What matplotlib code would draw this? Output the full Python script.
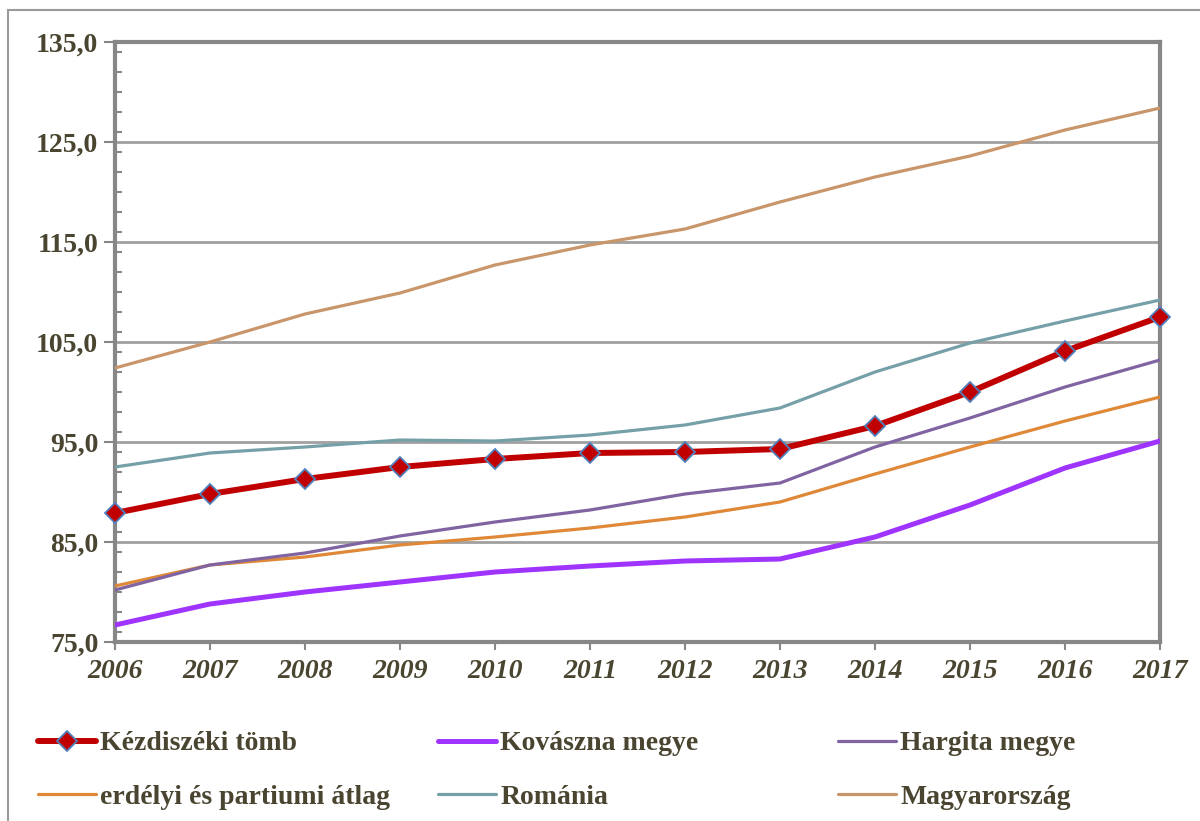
import matplotlib
matplotlib.use("Agg")
import matplotlib.pyplot as plt
from matplotlib.ticker import MultipleLocator, FixedLocator
from matplotlib.lines import Line2D
from matplotlib.patches import Rectangle
from matplotlib.font_manager import FontProperties

years = [2006, 2007, 2008, 2009, 2010, 2011, 2012, 2013, 2014, 2015, 2016, 2017]
kezdiszek = [87.9, 89.8, 91.3, 92.5, 93.3, 93.9, 94.0, 94.3, 96.6, 100.0, 104.1, 107.5]
kovaszna = [76.7, 78.8, 80.0, 81.0, 82.0, 82.6, 83.1, 83.3, 85.5, 88.7, 92.4, 95.1]
hargita = [80.2, 82.7, 83.9, 85.6, 87.0, 88.2, 89.8, 90.9, 94.5, 97.4, 100.5, 103.2]
erdelyi = [80.6, 82.7, 83.5, 84.7, 85.5, 86.4, 87.5, 89.0, 91.8, 94.5, 97.1, 99.5]
romania = [92.5, 93.9, 94.5, 95.2, 95.1, 95.7, 96.7, 98.4, 102.0, 104.9, 107.1, 109.2]
magyarorszag = [102.4, 105.0, 107.8, 109.9, 112.7, 114.7, 116.3, 119.0, 121.5, 123.6, 126.2, 128.4]
y_ticks = [75, 85, 95, 105, 115, 125, 135]
y_labels = ["75,0", "85,0", "95,0", "105,0", "115,0", "125,0", "135,0"]

labels = ["Kézdiszéki tömb", "Kovászna megye", "Hargita megye",
          "erdélyi és partiumi átlag", "Románia", "Magyarország"]

txt = "#4A4530"
plt.rcParams['font.family'] = ['Liberation Serif', 'DejaVu Serif']

fig = plt.figure(figsize=(12, 8.21), dpi=100)
W, H = 1200, 821
ax = fig.add_axes([115 / W, 1 - 642 / H, (1160 - 115) / W, 600 / H])

# outer frame
fig.patches.append(Rectangle((8 / W, -0.05), 1.2, 1 - 10 / H + 0.05, transform=fig.transFigure,
                             fill=False, edgecolor="#9A9A9A", linewidth=1.5, zorder=0))

lines = {}
lines['mag'], = ax.plot(years, magyarorszag, color="#C8966A", lw=2.3, zorder=3)
lines['rom'], = ax.plot(years, romania, color="#76A0A8", lw=2.3, zorder=3)
lines['erd'], = ax.plot(years, erdelyi, color="#DE8838", lw=2.3, zorder=3)
lines['har'], = ax.plot(years, hargita, color="#8064A2", lw=2.3, zorder=3)
lines['kov'], = ax.plot(years, kovaszna, color="#A034FF", lw=3.6, zorder=4)
lines['kez'], = ax.plot(years, kezdiszek, color="#C00000", lw=4.3, marker="D", markersize=10,
                        markerfacecolor="#C00000", markeredgecolor="#4F81BD", markeredgewidth=1.3,
                        zorder=5, clip_on=False)

ax.set_xlim(2006, 2017)
ax.set_ylim(75, 135)
ax.yaxis.set_major_locator(FixedLocator(y_ticks))
ax.set_yticklabels(y_labels)
ax.yaxis.set_minor_locator(MultipleLocator(2))
ax.set_xticks(years)
ax.set_xticklabels([str(y) for y in years])

ax.grid(axis='y', which='major', color="#A0A0A0", linewidth=2, zorder=1)
for s in ax.spines.values():
    s.set_color("#878787")
    s.set_linewidth(3)

ax.tick_params(axis='y', which='major', direction='out', length=8, width=1.5, color="#878787",
               labelsize=20, labelcolor=txt, pad=4)
ax.tick_params(axis='y', which='minor', direction='in', length=5, width=1.5, color="#878787")
ax.tick_params(axis='x', which='major', direction='out', length=6, width=1.5, color="#878787",
               labelsize=20, labelcolor=txt, pad=6)
for t in ax.get_yticklabels():
    t.set_fontweight('bold')
for t in ax.get_xticklabels():
    t.set_fontweight('bold')
    t.set_fontstyle('italic')

def mk(line):
    return Line2D([], [], color=line.get_color(), lw=line.get_linewidth(),
                  marker=line.get_marker(), markersize=10,
                  markerfacecolor=line.get_markerfacecolor(),
                  markeredgecolor=line.get_markeredgecolor(),
                  markeredgewidth=1.3, solid_capstyle='round')

fp = FontProperties(family='Liberation Serif', weight='bold', size=20)
cols = [(['kez', 'erd'], [labels[0], labels[3]], 38),
        (['kov', 'rom'], [labels[1], labels[4]], 438),
        (['har', 'mag'], [labels[2], labels[5]], 838)]
for keys, labs, x0 in cols:
    leg = fig.legend([mk(lines[k]) for k in keys], labs, loc='upper left',
                     bbox_to_anchor=(x0 / W, 1 - 731 / H), frameon=False,
                     handlelength=2.1, handletextpad=0.15, labelspacing=1.0,
                     borderpad=0, borderaxespad=0, prop=fp)
    for t in leg.get_texts():
        t.set_color(txt)
        t.set_fontproperties(fp)

fig.savefig("out.png", dpi=100)
